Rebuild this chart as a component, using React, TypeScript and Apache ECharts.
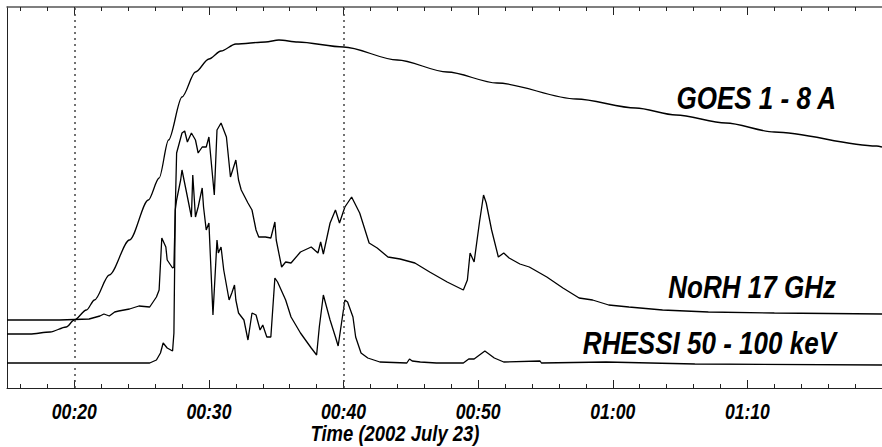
import React, { useEffect, useRef } from "react";
import * as echarts from "echarts";

// time in minutes after 00:00 UT, 2002 July 23; values in arbitrary (stacked, offset) units
const goesTime = [15.0, 16.7, 18.2, 19.4, 20.0, 20.9, 21.5, 22.6, 24.1, 25.5, 26.3, 27.0, 28.0, 29.0, 30.0, 30.9, 32.0, 34.2, 35.2, 36.6, 40.0, 44.0, 47.7, 51.4, 57.3, 61.7, 64.7, 68.4, 72.0, 79.6, 80.0];
const goesFlux = [54, 54, 56, 61, 68, 78, 88, 113, 148, 188, 210, 248, 291, 316, 329, 337, 344, 346, 348, 346, 341, 328, 316, 305, 289, 280, 273, 265, 256, 242, 241];

const norhTime = [15.0, 18.9, 21.1, 21.9, 22.2, 22.6, 23.0, 23.3, 24.1, 24.8, 25.6, 26.1, 26.3, 26.5, 26.8, 26.9, 27.3, 27.4, 27.6, 27.8, 28.0, 28.2, 28.4, 28.7, 29.0, 29.2, 29.5, 29.8, 30.0, 30.4, 30.6, 30.9, 31.3, 31.6, 32.0, 32.2, 32.4, 32.9, 33.2, 33.5, 33.7, 34.2, 34.6, 34.9, 35.0, 35.4, 35.7, 36.1, 36.8, 37.6, 38.1, 38.3, 38.5, 39.0, 39.4, 39.7, 40.1, 40.6, 41.2, 41.9, 42.5, 43.3, 44.2, 45.3, 46.4, 47.7, 48.9, 49.2, 49.4, 49.7, 50.1, 50.4, 50.6, 51.0, 51.5, 51.9, 52.3, 53.1, 53.8, 55.1, 56.3, 57.5, 58.5, 59.7, 61.2, 63.7, 67.1, 72.0, 80.0];
const norhFlux = [68, 68, 69, 72, 74, 72, 76, 77, 79, 82, 81, 91, 98, 150, 141, 128, 120, 121, 235, 245, 255, 257, 246, 255, 248, 235, 241, 241, 251, 193, 258, 265, 251, 211, 228, 208, 198, 185, 178, 158, 151, 151, 150, 166, 148, 121, 126, 125, 136, 141, 135, 146, 134, 165, 178, 165, 181, 191, 175, 145, 140, 131, 129, 125, 116, 106, 98, 108, 135, 126, 166, 193, 185, 158, 131, 135, 130, 124, 121, 111, 100, 90, 88, 83, 81, 78, 76, 75, 74];

const hxrTime = [15.0, 25.6, 26.1, 26.4, 26.6, 26.9, 27.3, 27.4, 27.5, 27.6, 27.9, 28.0, 28.3, 28.7, 28.8, 29.0, 29.2, 29.5, 29.6, 29.8, 30.0, 30.3, 30.6, 30.7, 30.9, 31.1, 31.5, 31.7, 31.9, 32.0, 32.2, 32.6, 32.9, 33.2, 33.5, 33.8, 34.0, 34.3, 34.6, 34.9, 35.1, 35.7, 36.1, 36.8, 37.6, 38.0, 38.2, 38.5, 39.0, 39.4, 39.6, 40.1, 40.3, 40.7, 40.9, 41.3, 41.8, 42.7, 44.7, 44.9, 45.1, 45.7, 46.9, 48.9, 49.3, 49.7, 50.5, 51.2, 51.9, 54.6, 54.7, 59.5, 66.1, 80.0];
const hxrFlux = [25, 25, 28, 35, 45, 40, 37, 55, 178, 188, 208, 218, 198, 171, 213, 171, 181, 200, 181, 158, 165, 73, 148, 135, 141, 118, 88, 95, 103, 88, 75, 68, 48, 75, 73, 58, 63, 51, 51, 110, 106, 88, 71, 55, 40, 33, 61, 93, 68, 51, 42, 88, 86, 71, 51, 35, 30, 26, 25, 29, 27, 26, 25, 25, 29, 29, 37, 30, 26, 27, 25, 26, 24, 23];

const seriesLabels = ["GOES 1 - 8 A", "NoRH 17 GHz", "RHESSI 50 - 100 keV"];
const tickLabelValues = [20, 30, 40, 50, 60, 70];
const majorTickValues = [20, 30, 40, 50, 60, 70, 80];
const minorTickValues = [16, 18, 20, 22, 24, 26, 28, 30, 32, 34, 36, 38, 40, 42, 44, 46, 48, 50, 52, 54, 56, 58, 60, 62, 64, 66, 68, 70, 72, 74, 76, 78, 80];
const markerTimes = [20, 40];
const axisTitle = "Time (2002 July 23)";

const FONT = '"Liberation Sans", Arial, sans-serif';

const fmt = (v: number) => {
  const h = Math.floor(v / 60);
  const m = Math.round(v % 60);
  return String(h).padStart(2, "0") + ":" + String(m).padStart(2, "0");
};

const pairs = (t: number[], v: number[]) => t.map((x, i) => [x, v[i]]);

const boldItalic = (size: number) => ({
  fill: "#000",
  fontFamily: FONT,
  fontStyle: "italic",
  fontWeight: "bold",
  fontSize: size,
});

export default function App() {
  const ref = useRef<HTMLDivElement>(null);
  useEffect(() => {
    if (!ref.current) return;
    const chart = echarts.init(ref.current, undefined, { renderer: "svg" });
    const base: any = { type: "value", min: 15, max: 80, splitLine: { show: false } };
    const lineCol = "#222";
    const option: any = {
      animation: false,
      backgroundColor: "#fff",
      grid: { left: 7, top: 7, width: 883, height: 381, containLabel: false },
      xAxis: [
        {
          ...base,
          position: "bottom",
          axisLine: { show: true, onZero: false, lineStyle: { color: lineCol, width: 1 } },
          axisTick: { show: true, inside: true, length: 4, customValues: minorTickValues, lineStyle: { color: lineCol, width: 1 } },
          axisLabel: { show: false },
        },
        {
          ...base,
          position: "bottom",
          axisLine: { show: false, onZero: false },
          axisTick: { show: true, inside: true, length: 8, customValues: majorTickValues, lineStyle: { color: lineCol, width: 1 } },
          axisLabel: { show: false },
        },
        {
          ...base,
          position: "top",
          axisLine: { show: true, onZero: false, lineStyle: { color: "#555", width: 1.5 } },
          axisTick: { show: true, inside: true, length: 4, customValues: minorTickValues, lineStyle: { color: lineCol, width: 1 } },
          axisLabel: { show: false },
        },
        {
          ...base,
          position: "top",
          axisLine: { show: false, onZero: false },
          axisTick: { show: true, inside: true, length: 8, customValues: majorTickValues, lineStyle: { color: lineCol, width: 1 } },
          axisLabel: { show: false },
        },
      ],
      yAxis: {
        type: "value",
        min: 0,
        max: 381,
        position: "left",
        axisLine: { show: true, onZero: false, lineStyle: { color: lineCol, width: 1 } },
        axisTick: { show: false },
        axisLabel: { show: false },
        splitLine: { show: false },
      },
      series: [
        {
          name: seriesLabels[0],
          type: "line",
          data: pairs(goesTime, goesFlux),
          showSymbol: false,
          smooth: 0.3,
          smoothMonotone: "x",
          lineStyle: { color: "#000", width: 1.3 },
          markLine: {
            silent: true,
            symbol: ["none", "none"],
            label: { show: false },
            lineStyle: { type: [2, 4], color: "#444", width: 1.5 },
            data: markerTimes.map((t) => ({ xAxis: t })),
          },
        },
        {
          name: seriesLabels[1],
          type: "line",
          data: pairs(norhTime, norhFlux),
          showSymbol: false,
          lineStyle: { color: "#000", width: 1.3 },
        },
        {
          name: seriesLabels[2],
          type: "line",
          data: pairs(hxrTime, hxrFlux),
          showSymbol: false,
          lineStyle: { color: "#000", width: 1.3 },
        },
      ],
    };
    chart.setOption(option);

    // tick labels placed through the axis scale, drawn condensed (narrow Helvetica look)
    const tickTexts = tickLabelValues.map((v) => ({
      type: "text",
      x: chart.convertToPixel({ xAxisIndex: 0 }, v) as number,
      y: 411,
      scaleX: 0.8,
      style: { text: fmt(v), align: "center", verticalAlign: "middle", ...boldItalic(22) },
    }));
    const seriesTexts = [
      { text: seriesLabels[0], y: 98 },
      { text: seriesLabels[1], y: 287 },
      { text: seriesLabels[2], y: 343 },
    ].map((l) => ({
      type: "text",
      x: 836,
      y: l.y,
      scaleX: 0.84,
      style: { text: l.text, align: "right", verticalAlign: "middle", ...boldItalic(31) },
    }));
    chart.setOption({
      graphic: [
        ...tickTexts,
        ...seriesTexts,
        {
          type: "text",
          x: 395,
          y: 433,
          scaleX: 0.84,
          style: { text: axisTitle, align: "center", verticalAlign: "middle", ...boldItalic(22) },
        },
      ],
    });
    return () => chart.dispose();
  }, []);
  return (
    <div
      ref={ref}
      style={{ position: "fixed", left: 0, top: 0, width: 882, height: 447, background: "#fff" }}
    />
  );
}
